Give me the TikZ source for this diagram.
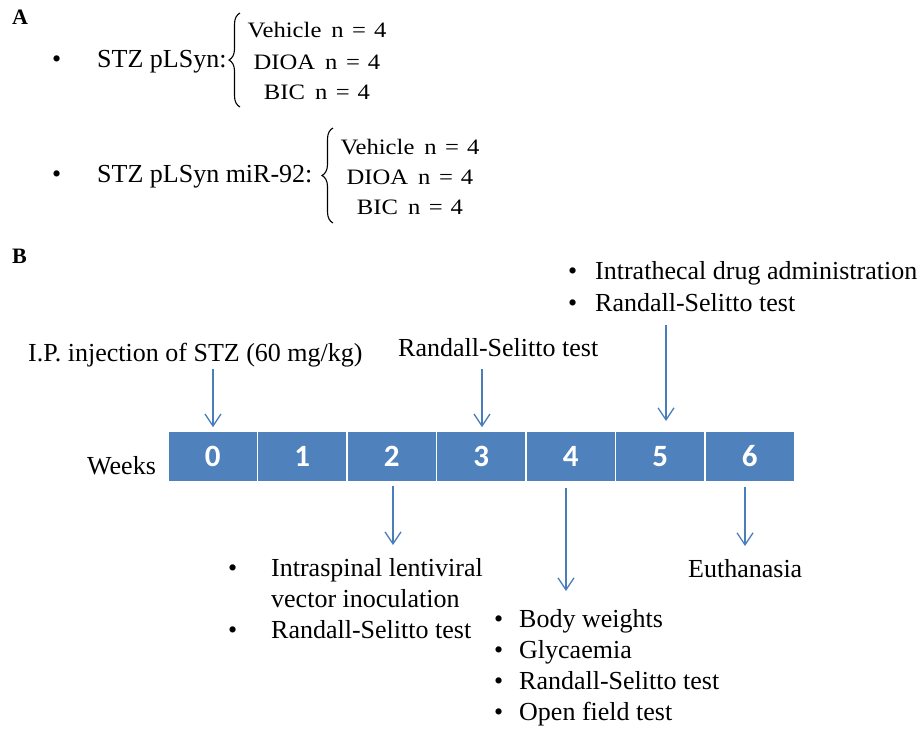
\documentclass[tikz,border=0pt]{standalone}
\usepackage{fontspec}
\setmainfont{Liberation Serif}
\newfontfamily\digitfont{Carlito}
\newfontfamily\cambriaish[FakeStretch=1.12]{Liberation Serif}
\usetikzlibrary{arrows.meta,decorations.pathreplacing}
\definecolor{boxblue}{HTML}{4F81BD}
\definecolor{arrblue}{HTML}{4A7EBB}
\newcommand{\grpline}[1]{#1\hspace{10pt}n\hspace{8.5pt}=\hspace{8pt}4}
\begin{document}
\begin{tikzpicture}[x=1pt,y=-1pt,
  txt/.style={anchor=base west,inner sep=0pt,font=\fontsize{26}{31}\selectfont},
  bul/.style={anchor=base west,inner sep=0pt,font=\fontsize{26}{31}\selectfont},
  grp/.style={anchor=base,inner sep=0pt,font=\cambriaish\fontsize{22}{24}\selectfont},
  panel/.style={anchor=base west,inner sep=0pt,font=\bfseries\fontsize{22}{24}\selectfont},
  wk/.style={rectangle,fill=boxblue,draw=white,line width=1.6pt,minimum width=89.5pt,minimum height=51pt,inner sep=0pt,text=white,font=\digitfont\bfseries\fontsize{31}{32}\selectfont},
  arr/.style={draw=arrblue,line width=1.3pt,-{Straight Barb[length=12pt,width=16pt,line width=1.3pt]}},
  curly/.style={draw=black,line width=1.1pt,decorate,decoration={brace,amplitude=11pt,aspect=0.5}}
]
\path[use as bounding box] (0,0) rectangle (922,729);

% Panel A
\node[panel] (A) at (12,24) {A};
\node[bul] (b1) at (52,67) {\textbullet};
\node[txt] (g1) at (97,67) {STZ pLSyn:};
\coordinate (br1t) at (240,13);
\coordinate (br1b) at (240,107);
\draw[curly] (br1b) -- (br1t);
\node[grp] (g1a) at (317,37) {\grpline{Vehicle}};
\node[grp] (g1b) at (317,69) {\grpline{DIOA}};
\node[grp] (g1c) at (317,99) {\grpline{BIC}};

\node[bul] (b2) at (52,182) {\textbullet};
\node[txt] (g2) at (97,182) {STZ pLSyn miR-92:};
\coordinate (br2t) at (333,128);
\coordinate (br2b) at (333,223);
\draw[curly] (br2b) -- (br2t);
\node[grp] (g2a) at (410,154) {\grpline{Vehicle}};
\node[grp] (g2b) at (410,184) {\grpline{DIOA}};
\node[grp] (g2c) at (410,214) {\grpline{BIC}};

% Panel B
\node[panel] (B) at (12,263) {B};

\node[txt] (weeks) at (87,474) {Weeks};
\foreach \i in {0,...,6} {
  \node[wk] (w\i) at ({168+89.5*(\i+0.5)},456.5) {\i};
}

% labels above
\node[txt] (ip) at (28,361) {I.P. injection of STZ (60 mg/kg)};
\node[txt] (rs3) at (398,356) {Randall-Selitto test};
\node[bul] (b5a) at (568,279) {\textbullet};
\node[txt] (it5) at (595,279) {Intrathecal drug administration};
\node[bul] (b5b) at (568,311) {\textbullet};
\node[txt] (rs5) at (595,311) {Randall-Selitto test};

% labels below
\node[bul] (b2a) at (228,576) {\textbullet};
\node[txt] (is2) at (271,576) {Intraspinal lentiviral};
\node[txt] (vi2) at (271,607) {vector inoculation};
\node[bul] (b2b) at (228,638) {\textbullet};
\node[txt] (rs2) at (271,638) {Randall-Selitto test};

\node[bul] (b4a) at (494,627) {\textbullet};
\node[txt] (bw4) at (519,627) {Body weights};
\node[bul] (b4b) at (494,658) {\textbullet};
\node[txt] (gl4) at (519,658) {Glycaemia};
\node[bul] (b4c) at (494,689) {\textbullet};
\node[txt] (rs4) at (519,689) {Randall-Selitto test};
\node[bul] (b4d) at (494,720) {\textbullet};
\node[txt] (of4) at (519,720) {Open field test};

\node[txt] (eu6) at (688,577) {Euthanasia};

% arrow end points
\coordinate (a1s) at (213,369);
\coordinate (a2s) at (482,369);
\coordinate (a3s) at (666,325);
\coordinate (a3e) at (666,421);
\coordinate (a4e) at (393,545);
\coordinate (a5e) at (566,591);
\coordinate (a6e) at (745,546);

\draw[arr,shorten >=3pt] (a1s) -- (a1s |- w0.north);
\draw[arr,shorten >=3pt] (a2s) -- (a2s |- w3.north);
\draw[arr] (a3s) -- (a3e);
\draw[arr,shorten <=3pt] (a4e |- w2.south) -- (a4e);
\draw[arr,shorten <=5pt] (a5e |- w4.south) -- (a5e);
\draw[arr,shorten <=4pt] (a6e |- w6.south) -- (a6e);
\end{tikzpicture}
\end{document}
